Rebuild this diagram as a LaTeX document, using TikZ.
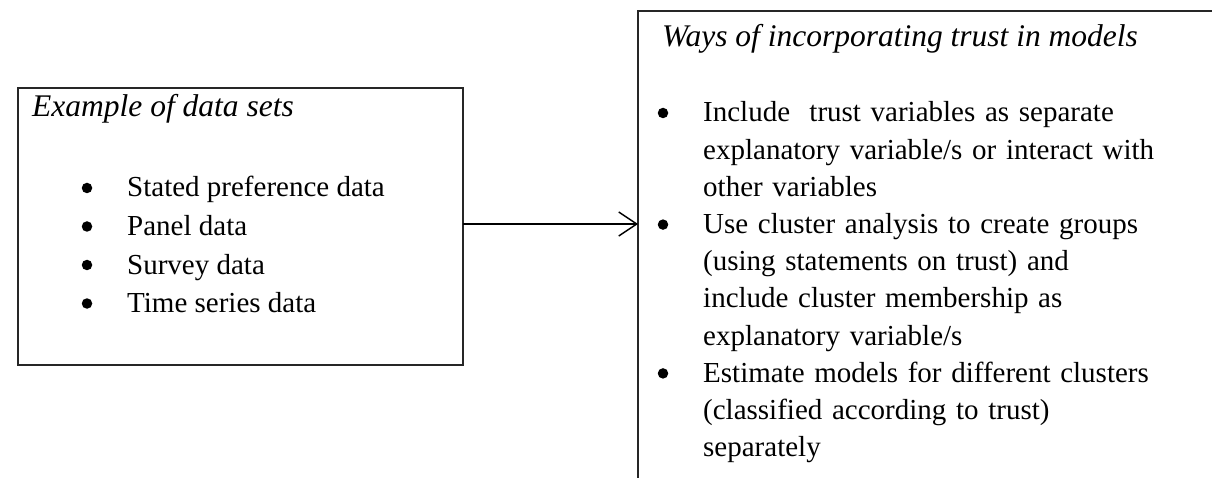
\documentclass[tikz,border=0pt]{standalone}
\usepackage{fontspec}
\setmainfont{Liberation Serif}
\usetikzlibrary{arrows.meta}
\begin{document}
\begin{tikzpicture}[x=1pt,y=-1pt,
  box/.style={draw=black!85, line width=1.3pt, rectangle, inner sep=0pt, outer sep=0pt, anchor=north west},
  ttl/.style={inner sep=0pt, anchor=base west, font=\fontsize{31.5}{37.2}\selectfont\itshape},
  ltxt/.style={inner sep=0pt, anchor=base west, font=\fontsize{29}{38.5}\selectfont},
  item/.style={inner sep=0pt, anchor=base west, text width=510pt, align=left, font=\fontsize{29}{37.2}\selectfont},
  dot/.style={circle, fill=black, inner sep=0pt, minimum size=10.5pt},
  arr/.style={line width=1.4pt, -{Straight Barb[length=18pt,width=24pt,line width=1.4pt]}}]
\useasboundingbox (0,0) rectangle (1212,478);
\fill[white] (0,0) rectangle (1212,478);
% left box
\node[box, minimum width=445pt, minimum height=277pt] (L) at (18,88) {};
\node[ttl] (Lt) at (32,117) {Example of data sets};
\node[dot] (Ld1) at (87,188) {};
\node[ltxt] (L1) at (127,197) {Stated preference data};
\node[dot] (Ld2) at (87,226.5) {};
\node[ltxt] (L2) at (127,235.5) {Panel data};
\node[dot] (Ld3) at (87,265) {};
\node[ltxt] (L3) at (127,274) {Survey data};
\node[dot] (Ld4) at (87,303.5) {};
\node[ltxt] (L4) at (127,312.5) {Time series data};
% right box
\begin{scope}
\clip (0,0) rectangle (1212,478);
\node[box, minimum width=620pt, minimum height=520pt] (R) at (638,11) {};
\end{scope}
\node[ttl] (Rt) at (662,47) {Ways of incorporating trust in models};
\node[dot] (Rd1) at (663,113) {};
\node[item] (R1) at (703,122) {Include\ \ trust variables as separate\\explanatory variable/s or interact with\\other variables};
\node[dot] (Rd2) at (663,224.6) {};
\node[item] (R2) at (703,233.6) {Use cluster analysis to create groups\\(using statements on trust) and\\include cluster membership as\\explanatory variable/s};
\node[dot] (Rd3) at (663,373.4) {};
\node[item] (R3) at (703,382.4) {Estimate models for different clusters\\(classified according to trust)\\separately};
% connector
\draw[arr] ([yshift=2.5pt]L.east) -- ([yshift=2.5pt]L.east -| R.west);
\end{tikzpicture}
\end{document}
